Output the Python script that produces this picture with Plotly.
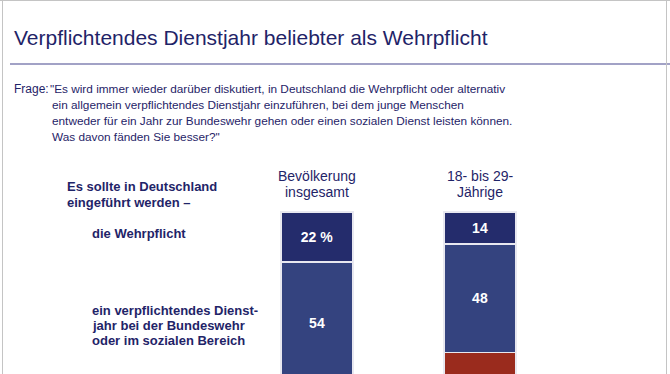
import plotly.graph_objects as go

W, H = 670, 374

# ---- data ----
groups = ["Bevölkerung<br>insgesamt", "18- bis 29-<br>Jährige"]
series_names = ["die Wehrpflicht", "ein verpflichtendes Dienstjahr", "andere Antwort"]
wehrpflicht = [22, 14]
dienstjahr = [54, 48]
andere = [15, 27]  # only partially visible; estimated
series_values = [wehrpflicht, dienstjahr, andere]
series_colors = ["#242c6c", "#34437f", "#9a2b1d"]

title_text = "Verpflichtendes Dienstjahr beliebter als Wehrpflicht"
question_lines = [
    "\"Es wird immer wieder darüber diskutiert, in Deutschland die Wehrpflicht oder alternativ",
    "ein allgemein verpflichtendes Dienstjahr einzuführen, bei dem junge Menschen",
    "entweder für ein Jahr zur Bundeswehr gehen oder einen sozialen Dienst leisten können.",
    "Was davon fänden Sie besser?\"",
]
intro_lines = ["Es sollte in Deutschland", "eingeführt werden –"]
label1_lines = ["die Wehrpflicht"]
label2_lines = ["ein verpflichtendes Dienst-", "jahr bei der Bundeswehr", "oder im sozialen Bereich"]

# ---- geometry helpers ----
PX_PER_UNIT_X = 163.0
X0_PX = 317.0
PX_PER_PCT = 2.27
Y0_PX = 212.0
x_range = [-X0_PX / PX_PER_UNIT_X, (W - X0_PX) / PX_PER_UNIT_X]
y_range = [(H - Y0_PX) / PX_PER_PCT, -Y0_PX / PX_PER_PCT]
bar_w = 72 / PX_PER_UNIT_X

def px(x):
    return x / W

def py(y):
    return 1 - y / H

FONT = "Liberation Sans, Arial, sans-serif"
NAVY = "#1f2468"

fig = go.Figure()
xpos = list(range(len(groups)))
for i, (name, vals, col) in enumerate(zip(series_names, series_values, series_colors)):
    if i == 0:
        txt = [f"<b>{vals[0]} %</b>"] + [f"<b>{v}</b>" for v in vals[1:]]
    elif i == 1:
        txt = [f"<b>{v}</b>" for v in vals]
    else:
        txt = ["" for v in vals]
    fig.add_trace(go.Bar(
        x=xpos, y=vals, name=name, width=bar_w,
        marker=dict(color=col, line=dict(color="#e8e8f0", width=1.5)),
        text=txt, textposition="inside", insidetextanchor="middle",
        textfont=dict(color="white", size=14, family=FONT),
        textangle=0, constraintext="none", hoverinfo="skip",
    ))

fig.update_layout(
    barmode="stack",
    width=W, height=H,
    margin=dict(l=0, r=0, t=0, b=0),
    paper_bgcolor="white", plot_bgcolor="white",
    showlegend=False,
    xaxis=dict(range=x_range, visible=False, fixedrange=True),
    yaxis=dict(range=y_range, visible=False, fixedrange=True),
    font=dict(family=FONT, color=NAVY),
)

def note(x, y, text, size, xanchor="left", xref="paper"):
    return dict(x=x, y=y, xref=xref, yref="paper", text=text, showarrow=False,
                xanchor=xanchor, yanchor="middle", font=dict(size=size, color=NAVY, family=FONT))

ann = []
ann.append(note(px(12), py(38), title_text, 21))
ann.append(note(px(12), py(89), "Frage:", 12))
for i, line in enumerate(question_lines):
    ann.append(note(px(48 if i == 0 else 50), py(89 + 16 * i), line, 11.8))
for i, line in enumerate(intro_lines):
    ann.append(note(px(65), py(186 + 16 * i), f"<b>{line}</b>", 13))
for i, line in enumerate(label1_lines):
    ann.append(note(px(90), py(233 + 16 * i), f"<b>{line}</b>", 13))
for i, line in enumerate(label2_lines):
    ann.append(note(px(90), py(310 + 15 * i), f"<b>{line}</b>", 13))
for i, g in enumerate(groups):
    for j, part in enumerate(g.split("<br>")):
        ann.append(note(xpos[i], py(176 + 16 * j), part, 14, xanchor="center", xref="x"))
fig.update_layout(annotations=ann)

shapes = [
    dict(type="line", xref="paper", yref="paper", x0=px(10), x1=1, y0=py(64), y1=py(64),
         line=dict(color="#a2a2c6", width=2)),
    dict(type="line", xref="paper", yref="paper", x0=0, x1=1, y0=py(0.5), y1=py(0.5),
         line=dict(color="#c4c4c4", width=1)),
    dict(type="line", xref="paper", yref="paper", x0=px(2.5), x1=px(2.5), y0=0, y1=1,
         line=dict(color="#c4c4c4", width=1)),
    dict(type="line", xref="paper", yref="paper", x0=px(666.5), x1=px(666.5), y0=0, y1=1,
         line=dict(color="#c4c4c4", width=1)),
]
fig.update_layout(shapes=shapes)

fig.write_html("out.html", config={"displayModeBar": False},
               post_script="document.body.style.margin='0';document.body.style.overflow='hidden';")
